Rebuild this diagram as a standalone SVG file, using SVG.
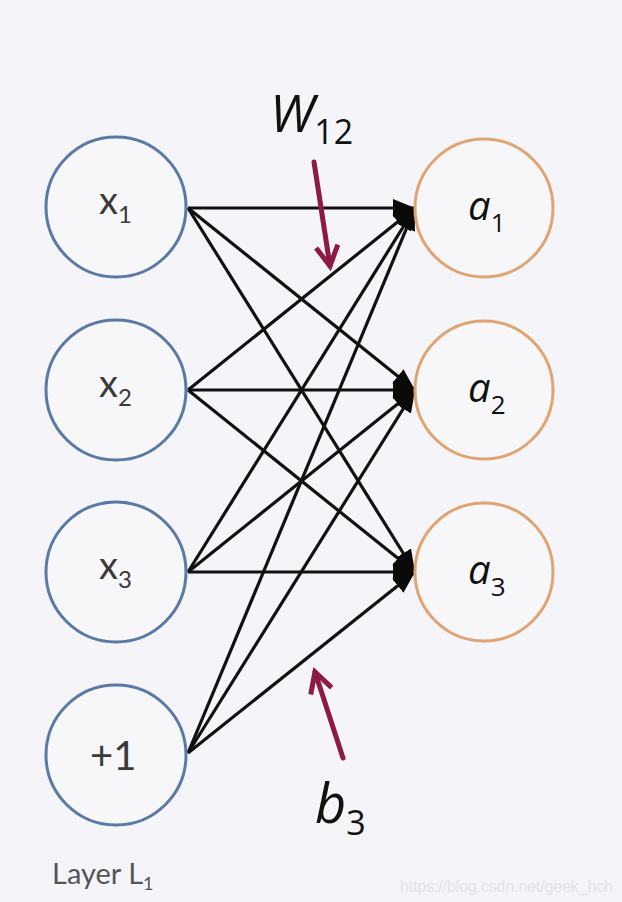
<svg xmlns="http://www.w3.org/2000/svg" width="622" height="902" viewBox="0 0 622 902">
<defs>
<style>
.in{fill:#f7f7fa;stroke:#5b79a6;stroke-width:3}
.out{fill:#f7f7fa;stroke:#e0a473;stroke-width:3}
.lbl{font-family:Lato,"Open Sans",sans-serif;fill:#3a3a3a}
.ital{font-family:"Open Sans",Lato,sans-serif;font-style:italic;fill:#111}
.edge{stroke:#111;stroke-width:3.2;fill:none;marker-end:url(#ah)}
.red{stroke:#8c1a42;stroke-width:5;fill:none;stroke-linecap:round;marker-end:url(#rh)}
</style>
<marker id="ah" markerUnits="userSpaceOnUse" markerWidth="24" markerHeight="20" refX="22" refY="10" orient="auto">
<path d="M0,1 L22,10 L0,19 Z" fill="#0a0a0a"/>
</marker>
<marker id="rh" markerUnits="userSpaceOnUse" markerWidth="30" markerHeight="30" refX="24" refY="15" orient="auto">
<path d="M4,4 L24,15 L4,26" fill="none" stroke="#8c1a42" stroke-width="5" stroke-linejoin="miter"/>
</marker>
</defs>
<rect width="622" height="902" fill="#f5f5f9"/>
<g id="connectors">
<line class="edge" x1="188" y1="208" x2="415" y2="208"/>
<line class="edge" x1="188" y1="208" x2="415" y2="390"/>
<line class="edge" x1="188" y1="208" x2="415" y2="572"/>
<line class="edge" x1="188" y1="390" x2="415" y2="208"/>
<line class="edge" x1="188" y1="390" x2="415" y2="390"/>
<line class="edge" x1="188" y1="390" x2="415" y2="572"/>
<line class="edge" x1="188" y1="572" x2="415" y2="208"/>
<line class="edge" x1="188" y1="572" x2="415" y2="390"/>
<line class="edge" x1="188" y1="572" x2="415" y2="572"/>
<line class="edge" x1="188" y1="753" x2="415" y2="208"/>
<line class="edge" x1="188" y1="753" x2="415" y2="390"/>
<line class="edge" x1="188" y1="753" x2="415" y2="572"/>
<line class="red" x1="314" y1="162" x2="330" y2="266"/>
<line class="red" x1="343" y1="758" x2="315" y2="672"/>
</g>
<g id="x1"><circle class="in" cx="116" cy="207" r="70"/><text class="lbl" x="99" y="214" font-size="38">x<tspan font-size="24" dy="9">1</tspan></text></g>
<g id="x2"><circle class="in" cx="116" cy="390" r="70"/><text class="lbl" x="99" y="397" font-size="38">x<tspan font-size="24" dy="9">2</tspan></text></g>
<g id="x3"><circle class="in" cx="116" cy="572" r="70"/><text class="lbl" x="99" y="579" font-size="38">x<tspan font-size="24" dy="9">3</tspan></text></g>
<g id="bias"><circle class="in" cx="116" cy="755" r="70"/><text class="lbl" x="90" y="770" font-size="40">+1</text></g>
<g id="a1"><circle class="out" cx="484" cy="208" r="69"/><text class="ital" x="468" y="220" font-size="40">a<tspan font-style="normal" font-size="26" dy="12">1</tspan></text></g>
<g id="a2"><circle class="out" cx="484" cy="390" r="69"/><text class="ital" x="468" y="402" font-size="40">a<tspan font-style="normal" font-size="26" dy="12">2</tspan></text></g>
<g id="a3"><circle class="out" cx="484" cy="572" r="69"/><text class="ital" x="468" y="584" font-size="40">a<tspan font-style="normal" font-size="26" dy="12">3</tspan></text></g>
<text class="ital" x="270" y="132" font-size="52">W<tspan font-style="normal" font-size="34" dy="12">12</tspan></text>
<text class="ital" x="315" y="823" font-size="54">b<tspan font-style="normal" font-size="34" dy="12">3</tspan></text>
<text x="52" y="884" font-family="Lato,'Open Sans',sans-serif" font-size="29" fill="#555">Layer L<tspan font-size="18" dy="6">1</tspan></text>
<text x="400" y="892" font-family="'Liberation Sans',Arial,sans-serif" font-size="16" fill="#e2e2e6" textLength="213">https://blog.csdn.net/geek_hch</text>
</svg>
